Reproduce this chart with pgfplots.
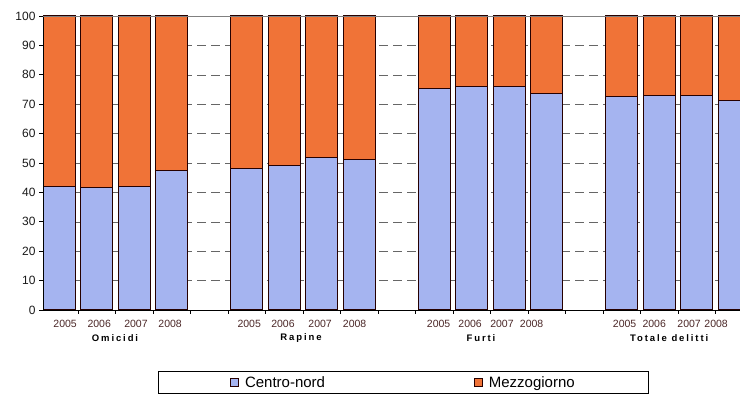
\documentclass[border=0pt]{standalone}
\usepackage{fontspec}
\setmainfont{Liberation Sans}
\newfontfamily\spaced[LetterSpace=20]{Liberation Sans}
\usepackage{pgfplots}
\pgfplotsset{compat=1.18}
\definecolor{cnblue}{HTML}{A5B4F0}
\definecolor{mzorange}{HTML}{F07337}
\definecolor{yearcol}{HTML}{4A2626}
\begin{document}
\begin{tikzpicture}
\path[use as bounding box] (0pt,0pt) rectangle (740pt,395pt);
\begin{axis}[
  at={(43pt,85pt)}, anchor=south west,
  scale only axis, width=713.6pt, height=294pt,
  xmin=-0.43, xmax=18.6, ymin=0, ymax=100,
  ybar stacked, bar width=32pt,
  ytick={0,10,...,100},
  xtick={0.16,1.07,2.05,2.96,5.07,5.97,6.96,7.88,10.12,10.96,11.81,12.6,15.08,15.87,16.8,17.52},
  xticklabels={2005,2006,2007,2008,2005,2006,2007,2008,2005,2006,2007,2008,2005,2006,2007,2008},
  minor xtick={0.5,1.5,...,18.5},
  tick align=outside, xtick pos=bottom, ytick pos=left,
  major tick length=4pt, minor tick length=4pt,
  major x tick style={draw=none},
  every tick/.style={black, line width=0.6pt},
  minor tick style={black, line width=0.6pt},
  ymajorgrids,
  major grid style={gray!80!black, line width=0.5pt, dash pattern=on 9pt off 5pt},
  axis line style={draw=none},
  /pgf/number format/assume math mode=true,
  yticklabel style={font=\fontsize{12}{13}\selectfont, text=black!90},
  xticklabel style={font=\fontsize{10.5}{11}\selectfont, text=yearcol, yshift=-3pt},
  legend columns=2,
  legend style={at={(0.5052,-0.2075)}, anchor=north, draw=black, line width=0.6pt,
    font=\fontsize{15}{17}\selectfont, inner xsep=72pt, inner ysep=3pt,
    /tikz/every even column/.append style={column sep=147pt}},
  legend image code/.code={\draw[#1, line width=0.6pt] (0pt,-3.5pt) rectangle (8pt,4.5pt); \path (12pt,0pt);},
  every axis plot/.append style={draw=black!85!red, line width=1pt},
  after end axis/.code={
    \draw[black, line width=0.9pt] (rel axis cs:0,0) -- (rel axis cs:1,0);
    \draw[black, line width=0.9pt] (rel axis cs:0,0) -- (rel axis cs:0,1);
    \draw[gray, line width=0.5pt] (rel axis cs:0,1) -- (rel axis cs:1,1);
    \node[font=\fontsize{9.5}{10}\selectfont\bfseries\spaced] at (axis cs:1.49,0) [yshift=-28pt] {Omicidi};
    \node[font=\fontsize{9.5}{10}\selectfont\bfseries\spaced] at (axis cs:6.45,0) [yshift=-28pt] {Rapine};
    \node[font=\fontsize{9.5}{10}\selectfont\bfseries\spaced] at (axis cs:11.25,0) [yshift=-28pt] {Furti};
    \node[font=\fontsize{9.5}{10}\selectfont\bfseries\spaced] at (axis cs:16.27,0) [yshift=-28pt] {Totale delitti};
  },
]
\addplot[fill=cnblue] coordinates {
  (0,42.0) (1,41.6) (2,42.0) (3,47.6)
  (5,48.1) (6,49.2) (7,52.0) (8,51.3)
  (10,75.5) (11,76.0) (12,76.1) (13,73.6)
  (15,72.5) (16,73.0) (17,72.8) (18,71.4)};
\addlegendentry{Centro-nord}
\addplot[fill=mzorange] coordinates {
  (0,58.0) (1,58.4) (2,58.0) (3,52.4)
  (5,51.9) (6,50.8) (7,48.0) (8,48.7)
  (10,24.5) (11,24.0) (12,23.9) (13,26.4)
  (15,27.5) (16,27.0) (17,27.2) (18,28.6)};
\addlegendentry{Mezzogiorno}
\end{axis}
\end{tikzpicture}
\end{document}
